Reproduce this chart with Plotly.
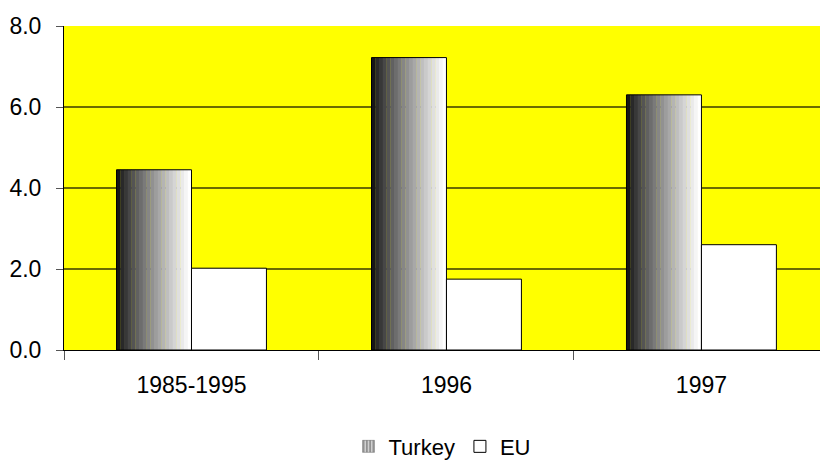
import plotly.graph_objects as go

# Growth figures per period
periods = ["1985-1995", "1996", "1997"]
turkey = [4.45, 7.22, 6.30]
eu = [2.02, 1.75, 2.60]
y_ticks = [0, 2, 4, 6, 8]

BAR_W = 0.294          # width of each bar in category units
N_STRIPS = 20          # steps of the shaded Turkey bars
FONT = "Liberation Sans, Arial, sans-serif"

fig = go.Figure()

# Turkey bars: dark-to-light shading built from narrow vertical strips
for i in range(N_STRIPS):
    t = i / (N_STRIPS - 1)
    v = int(round(22 + 233 * t ** 0.85))
    fig.add_trace(go.Bar(
        x=periods, y=turkey,
        offset=-BAR_W + i * BAR_W / N_STRIPS,
        width=BAR_W / N_STRIPS * 1.08,
        marker=dict(color=f"rgb({v},{v},{v})", line=dict(width=0)),
        showlegend=False, hoverinfo="skip",
    ))

# Turkey outline
fig.add_trace(go.Bar(
    x=periods, y=turkey, offset=-BAR_W, width=BAR_W,
    marker=dict(color="rgba(0,0,0,0)", line=dict(color="black", width=1)),
    name="Turkey", showlegend=False,
))

# Legend swatch for Turkey
fig.add_trace(go.Bar(
    x=periods, y=[None] * len(periods), name="Turkey",
    marker=dict(color="#d0d0d0", line=dict(color="#606060", width=0.5),
                pattern=dict(shape="|", fgcolor="#303030", size=4, solidity=0.4)),
))

# EU bars
fig.add_trace(go.Bar(
    x=periods, y=eu, offset=0, width=BAR_W, name="EU",
    marker=dict(color="white", line=dict(color="black", width=1)),
))

fig.update_layout(
    width=820, height=461,
    margin=dict(l=64, r=0, t=26, b=111, autoexpand=False),
    barmode="overlay",
    paper_bgcolor="white",
    plot_bgcolor="#ffff00",
    font=dict(family=FONT, size=23, color="black"),
    legend=dict(
        orientation="h", x=0.5, xanchor="center", y=-0.298, yanchor="middle",
        font=dict(size=22), itemwidth=30, traceorder="normal",
        bgcolor="rgba(0,0,0,0)",
    ),
)

fig.update_xaxes(
    type="category", range=[-0.5, 2.465], automargin=False,
    showline=True, linecolor="black", linewidth=1,
    ticks="outside", tickson="boundaries", ticklen=9, tickcolor="#555555",
    ticklabelstandoff=14, showgrid=False,
    tickfont=dict(size=23),
)

fig.update_yaxes(
    range=[0, 8], tickvals=y_ticks, tickformat=".1f", automargin=False,
    showline=True, linecolor="black", linewidth=1,
    ticks="outside", ticklen=7, tickcolor="#555555",
    ticklabelstandoff=10,
    showgrid=True, gridcolor="rgba(0,0,0,0.58)", gridwidth=1.5,
    zeroline=False, tickfont=dict(size=23),
)

fig.write_html("out.html")
